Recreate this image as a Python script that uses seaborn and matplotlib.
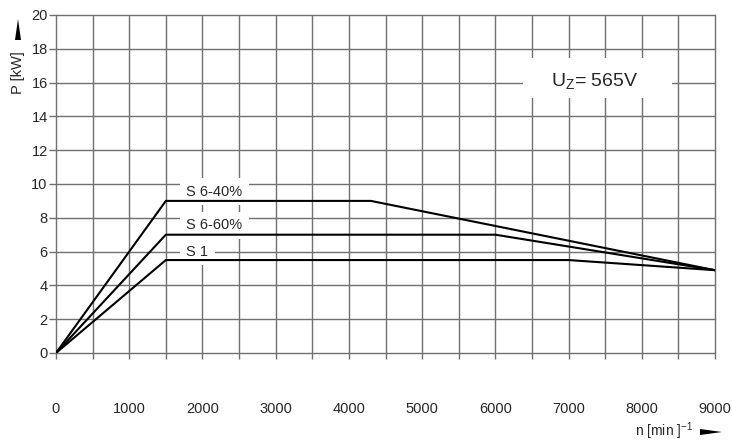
import numpy as np
import pandas as pd
import matplotlib
matplotlib.use("Agg")
import matplotlib.pyplot as plt
from matplotlib.patches import Polygon, Rectangle
import seaborn as sns

# speed [1/min] and power [kW] corner points of each curve
n_s640 = [0, 1500, 4300, 9000]
p_s640 = [0, 9.0, 9.0, 4.9]
n_s660 = [0, 1500, 6000, 9000]
p_s660 = [0, 7.0, 7.0, 4.9]
n_s1 = [0, 1500, 7000, 9000]
p_s1 = [0, 5.5, 5.5, 4.9]

x_ticks = list(range(0, 9001, 1000))
y_ticks = list(range(0, 21, 2))

sns.set_style("white")
plt.rcParams['font.family'] = ['Liberation Sans', 'DejaVu Sans']
plt.rcParams['mathtext.fontset'] = 'custom'
plt.rcParams['mathtext.rm'] = 'Liberation Sans'
plt.rcParams['mathtext.it'] = 'Liberation Sans'

fig = plt.figure(figsize=(7.32, 4.41), dpi=100)
ax = fig.add_axes([56 / 732, 1 - 353 / 441, 659 / 732, 338 / 441])

grid_c = '#707070'
for xv in range(0, 9001, 500):
    ax.axvline(xv, color=grid_c, lw=1, zorder=1, clip_on=False)
for yv in y_ticks:
    ax.axhline(yv, color=grid_c, lw=1, zorder=1, clip_on=False)

curves = {'S 6-40%': (n_s640, p_s640), 'S 6-60%': (n_s660, p_s660), 'S 1': (n_s1, p_s1)}
for name, (n, p) in curves.items():
    df = pd.DataFrame({'n': n, 'P': p})
    sns.lineplot(data=df, x='n', y='P', color='black', lw=1.5, ax=ax, zorder=5, sort=False)

box = dict(facecolor='white', edgecolor='none', boxstyle='square,pad=0.45')
ax.text(1780, 9.55, 'S 6-40%', fontsize=10.5, ha='left', va='center', bbox=box, zorder=3)
ax.text(1780, 7.55, 'S 6-60%', fontsize=10.5, ha='left', va='center', bbox=box, zorder=3)
ax.text(1780, 6.0, 'S 1', fontsize=10.5, ha='left', va='center', bbox=box, zorder=3)

ax.add_patch(Rectangle((6380, 15.1), 2030, 2.35, facecolor='white', edgecolor='none', zorder=2))
ax.text(7350, 16.1, r'U$_\mathrm{Z}$= 565V', fontsize=14, ha='center', va='center', zorder=3)

ax.set_xlim(0, 9000)
ax.set_ylim(0, 20)
ax.set_xticks(range(0, 9001, 500))
ax.set_xticklabels([str(v) if v in x_ticks else '' for v in range(0, 9001, 500)])
ax.set_yticks(y_ticks)
ax.tick_params(axis='x', length=4, width=1, color=grid_c, pad=31, labelsize=10.5, direction='out')
ax.tick_params(axis='y', length=5, width=1, color=grid_c, pad=1, labelsize=10.5, direction='out')
ax.tick_params(bottom=True, left=True)
for s in ax.spines.values():
    s.set_visible(False)
ax.set_xlabel('')
ax.set_ylabel('')

fig.text(18 / 732, 1 - 73 / 441, 'P [kW]', rotation=90, fontsize=10.5, ha='center', va='center')
fig.add_artist(Polygon([[15 / 732, 1 - 40 / 441], [21 / 732, 1 - 40 / 441], [18 / 732, 1 - 19 / 441]],
                       closed=True, facecolor='black', edgecolor='none', transform=fig.transFigure))
fig.text(664 / 732, 1 - 431 / 441, r'n [min ]$^{-1}$', fontsize=10, ha='center', va='center')
fig.add_artist(Polygon([[700 / 732, 1 - 429 / 441], [700 / 732, 1 - 435 / 441], [722 / 732, 1 - 432 / 441]],
                       closed=True, facecolor='black', edgecolor='none', transform=fig.transFigure))

fig.savefig('out.png', dpi=100)
